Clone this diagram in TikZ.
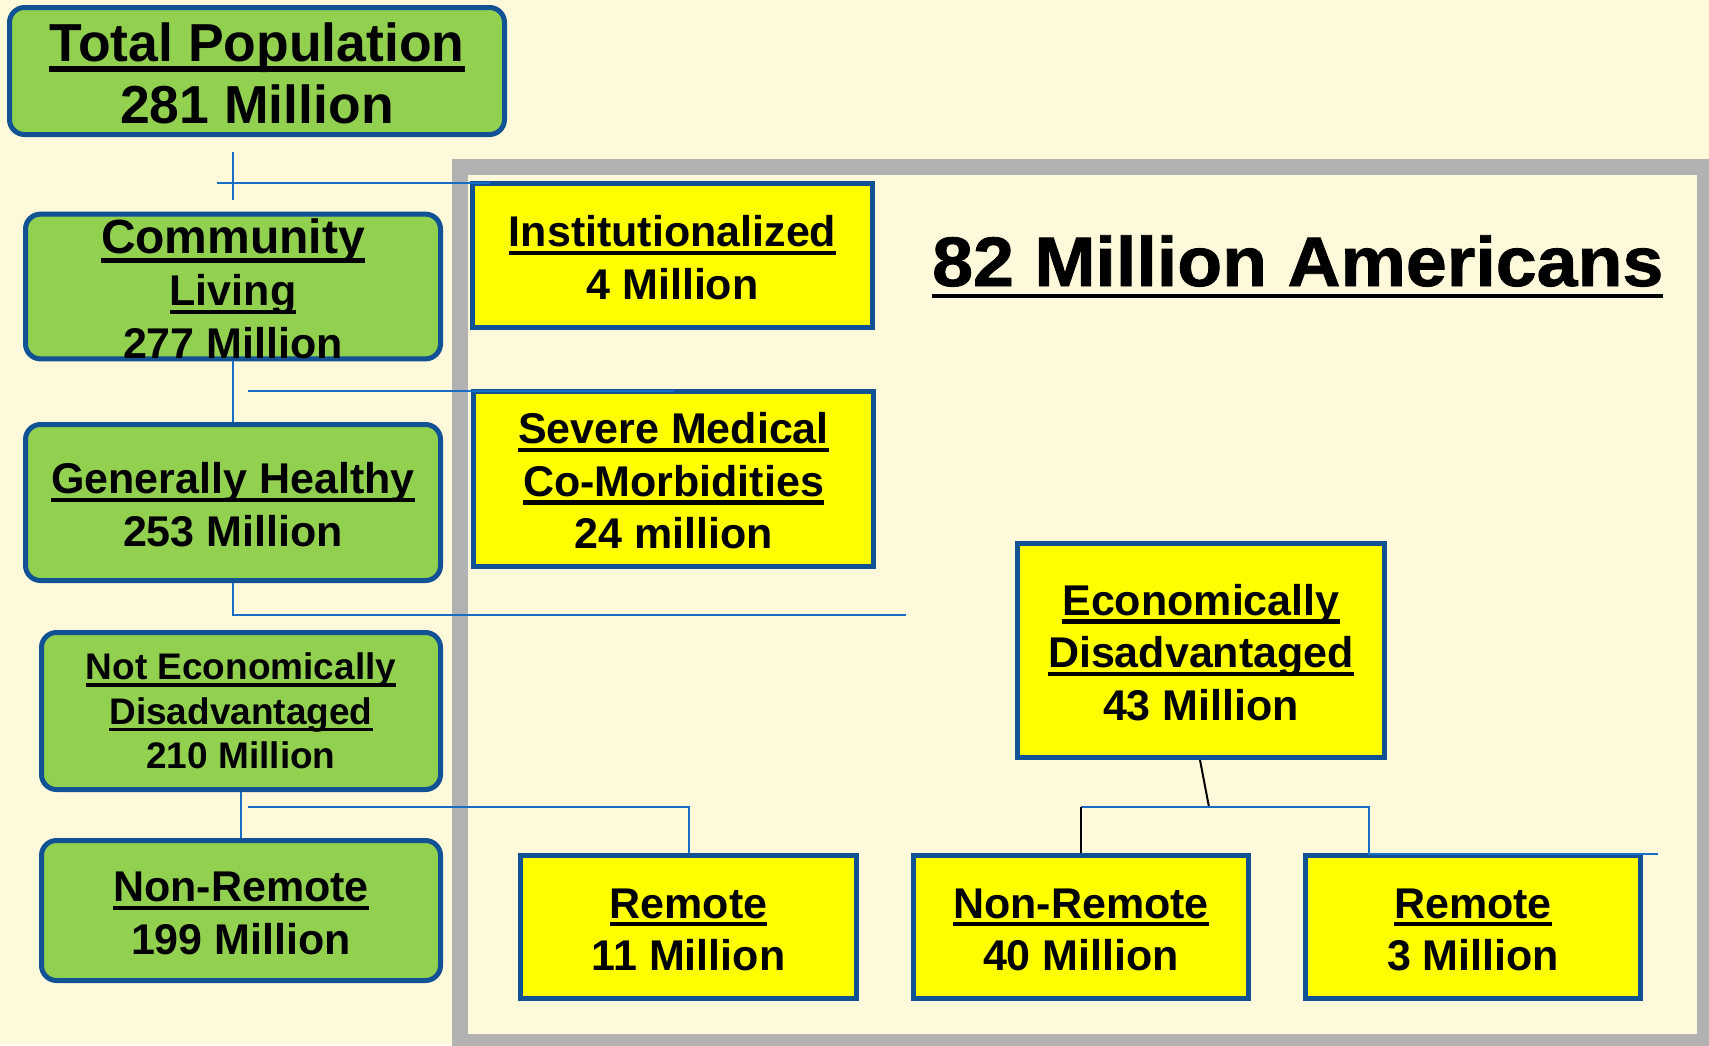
\documentclass[tikz,border=0pt]{standalone}
\usepackage{fontspec}
\setmainfont{Liberation Sans}
\newfontfamily\titlefont[FakeStretch=1.05,FakeBold=1.2]{Liberation Sans}
\usetikzlibrary{calc}
\definecolor{bgc}{RGB}{255,249,220}
\definecolor{greenf}{RGB}{146,208,80}
\definecolor{yellowf}{RGB}{255,255,0}
\definecolor{bord}{RGB}{16,82,148}
\definecolor{connc}{RGB}{24,110,196}
\definecolor{framec}{RGB}{178,178,178}
\newsavebox\ulbox
\newcommand\ulin[1]{\sbox\ulbox{#1}\rlap{\rule[-0.19em]{\wd\ulbox}{0.1em}}\usebox\ulbox}
\newcommand\topstrut{\rule{0pt}{0.82em}}
\tikzset{
  basebox/.style={draw=bord, line width=5pt, align=center, inner sep=0pt, text=black,
    font=\fontsize{43}{52.5}\selectfont\bfseries},
  gbox/.style={basebox, fill=greenf, rounded corners=15pt},
  ybox/.style={basebox, fill=yellowf},
  conn/.style={draw=connc, line width=2pt},
  blk/.style={draw=black, line width=2pt},
}
\begin{document}
\begin{tikzpicture}[x=1pt,y=-1pt]
\clip (0,0) rectangle (1709,1045);
\fill[bgc] (0,0) rectangle (1709,1045);
\draw[framec, line width=16pt] (460,167) rectangle (1705,1042);

% green column
\node[gbox, minimum width=495pt, minimum height=127pt,
  font=\fontsize{53.5}{62.5}\selectfont\bfseries] (total) at (257,71)
  {\topstrut\ulin{Total Population}\\281 Million};
\node[gbox, minimum width=415pt, minimum height=142pt] (comm) at (233,286.5)
  {{\fontsize{48}{52}\selectfont\topstrut\ulin{Community}}\\\ulin{Living}\\277 Million};
\node[gbox, minimum width=415pt, minimum height=156pt] (healthy) at (233,502.5)
  {\topstrut\ulin{Generally Healthy}\\253 Million};
\node[gbox, minimum width=399pt, minimum height=157pt,
  font=\fontsize{37}{44.5}\selectfont\bfseries] (notecon) at (241,711)
  {\ulin{Not Economically}\\\ulin{Disadvantaged}\\210 Million};
\node[gbox, minimum width=399pt, minimum height=140pt] (nonremA) at (241,910.5)
  {\topstrut\ulin{Non-Remote}\\199 Million};

% yellow boxes
\node[ybox, minimum width=400pt, minimum height=144pt] (inst) at (672.5,255.5)
  {\topstrut\ulin{Institutionalized}\\4 Million};
\node[ybox, minimum width=400pt, minimum height=175pt] (severe) at (673.5,479)
  {\topstrut\ulin{Severe Medical}\\\ulin{Co-Morbidities}\\24 million};
\node[ybox, minimum width=367pt, minimum height=214pt] (econ) at (1201,650.5)
  {\topstrut\ulin{Economically}\\\ulin{Disadvantaged}\\43 Million};
\node[ybox, minimum width=336pt, minimum height=143pt] (remA) at (688.5,927)
  {\topstrut\ulin{Remote}\\11 Million};
\node[ybox, minimum width=335pt, minimum height=143pt] (nonremB) at (1081,927)
  {\topstrut\ulin{Non-Remote}\\40 Million};
\node[ybox, minimum width=335pt, minimum height=143pt] (remB) at (1473,927)
  {\topstrut\ulin{Remote}\\3 Million};

% title
\node[anchor=base west, inner sep=0pt, font=\fontsize{70}{80}\titlefont\bfseries] (title) at (932,286)
  {\sbox\ulbox{82 Million Americans}\rlap{\rule[-0.17em]{\wd\ulbox}{0.06em}}\usebox\ulbox};

% connectors
\coordinate (c1t) at (233,152);
\coordinate (c1b) at (233,200);
\coordinate (c1l) at (217,183);
\coordinate (c1r) at (490,183);
\draw[conn] (c1t) -- (c1b);
\draw[conn] (c1l) -- (c1r);

\draw[conn] (comm.south) -- (healthy.north);
\coordinate (c2l) at (248,391);
\draw[conn] (c2l) -- (c2l -| severe.north);

\coordinate (c3r) at (906,615);
\draw[conn] (healthy.south) |- (c3r);

\draw[conn] (notecon.south) -- (nonremA.north);
\coordinate (c4l) at (248,807);
\draw[conn] (c4l) -| (remA.north);

\coordinate (ejoin) at (1209,807);
\coordinate (erj) at (1369,807);
\coordinate (eend) at (1658,854);
\draw[blk] ($(econ.south)+(-1,0)$) -- (ejoin);
\draw[conn] (ejoin -| nonremB.north) -- (erj) |- (eend);
\draw[blk] (ejoin -| nonremB.north) -- (nonremB.north);
\end{tikzpicture}
\end{document}
